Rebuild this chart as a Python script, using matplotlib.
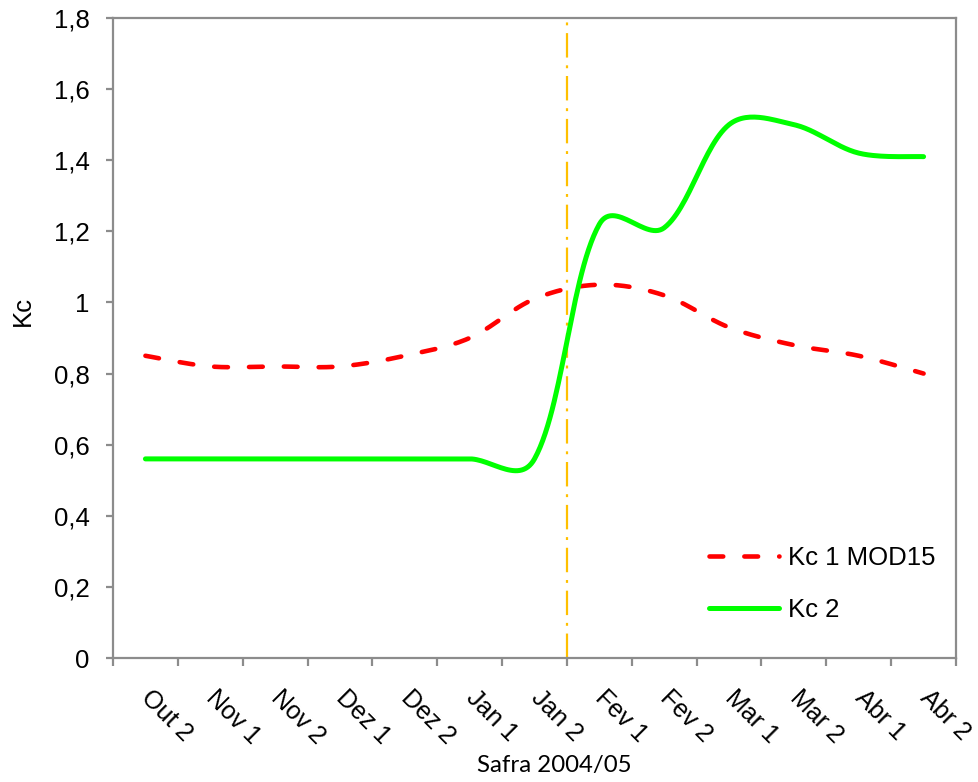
import numpy as np
import matplotlib
matplotlib.use("Agg")
import matplotlib.pyplot as plt

# Crop-coefficient series for the 2004/05 season (one value per half-month)
periods = ["Out 2", "Nov 1", "Nov 2", "Dez 1", "Dez 2", "Jan 1", "Jan 2",
           "Fev 1", "Fev 2", "Mar 1", "Mar 2", "Abr 1", "Abr 2"]
kc1_mod15 = [0.85, 0.82, 0.82, 0.82, 0.85, 0.90, 1.01, 1.05, 1.02, 0.93, 0.88, 0.85, 0.80]
kc2 = [0.56, 0.56, 0.56, 0.56, 0.56, 0.56, 0.56, 1.22, 1.21, 1.50, 1.50, 1.42, 1.41]
y_ticks = [0, 0.2, 0.4, 0.6, 0.8, 1.0, 1.2, 1.4, 1.6, 1.8]
y_tick_labels = ["0", "0,2", "0,4", "0,6", "0,8", "1", "1,2", "1,4", "1,6", "1,8"]
marker_pos = 6.5  # boundary between Jan 2 and Fev 1

SANS = "Liberation Sans"
TITLE_FONT = "Lato"
AXIS_GREY = "#8c8c8c"

fig = plt.figure(figsize=(9.79, 7.82), dpi=100)
ax = fig.add_axes([113 / 979, 124 / 782, 843 / 979, 640 / 782])
n = len(periods)
ax.set_xlim(-0.5, n - 0.5)
ax.set_ylim(0, 1.8)


def smooth_curve(ax, xs, ys, steps=30):
    """Bezier smoothing through the points (computed in display space)."""
    pts = ax.transData.transform(np.column_stack([xs, ys]))
    m = len(pts)
    seg = np.hypot(*np.diff(pts, axis=0).T)
    w = np.sqrt(seg)
    out = [pts[0]]
    t = np.linspace(0, 1, steps)[1:, None]
    for i in range(m - 1):
        p0, p3 = pts[i], pts[i + 1]
        if i == 0:
            c1 = p0 + (pts[1] - pts[0]) / 6
        else:
            c1 = p0 + (pts[i + 1] - pts[i - 1]) * w[i] / (w[i - 1] + w[i]) / 3
        if i + 1 == m - 1:
            c2 = p3 - (pts[i + 1] - pts[i]) / 6
        else:
            c2 = p3 - (pts[i + 2] - pts[i]) * w[i] / (w[i] + w[i + 1]) / 3
        b = ((1 - t) ** 3) * p0 + 3 * ((1 - t) ** 2) * t * c1 + 3 * (1 - t) * t ** 2 * c2 + t ** 3 * p3
        out.extend(b)
    out = ax.transData.inverted().transform(np.array(out))
    return out[:, 0], out[:, 1]


x = np.arange(n)
sx, sy = smooth_curve(ax, x, kc1_mod15)
ax.plot(sx, sy, color="#ff0000", lw=3.3, dashes=(3.0, 4.6),
        dash_capstyle="round", solid_capstyle="round", label="Kc 1 MOD15", zorder=3)
sx, sy = smooth_curve(ax, x, kc2)
ax.plot(sx, sy, color="#00ff00", lw=3.6, solid_capstyle="round",
        label="Kc 2", zorder=4)

ax.axvline(marker_pos, ymin=0, ymax=0.993, color="#ffc000", lw=1.6,
           dashes=(11, 3.5, 1.3, 3.5), zorder=2)

# Axes frame
for sp in ax.spines.values():
    sp.set_color(AXIS_GREY)
    sp.set_linewidth(1.6)

ax.set_yticks(y_ticks)
ax.set_yticklabels(y_tick_labels, fontfamily=SANS, fontsize=18.5)
ax.tick_params(axis="y", direction="out", length=5, width=1.6, color=AXIS_GREY, pad=12)

# Category labels sit at the centres; tick marks at the category boundaries
ax.set_xticks(x)
ax.set_xticklabels(periods, fontfamily=SANS, fontsize=18, rotation=-45,
                   rotation_mode="anchor", ha="left", va="center")
ax.tick_params(axis="x", which="major", length=0, pad=26)
ax.set_xticks(np.arange(-0.5, n, 1.0), minor=True)
ax.tick_params(axis="x", which="minor", direction="out", length=6, width=1.6, color=AXIS_GREY)

ax.set_ylabel("Kc", fontfamily=SANS, fontsize=18.5)
ax.yaxis.label.set_va("center")
ax.yaxis.set_label_coords(-0.107, 0.542)
ax.set_xlabel("Safra 2004/05", fontfamily=TITLE_FONT, fontsize=17.3)
ax.xaxis.label.set_va("center")
ax.xaxis.set_label_coords(0.524, -0.168)

leg = ax.legend(loc="center left", bbox_to_anchor=(0.695, 0.116), frameon=False,
                prop={"family": SANS, "size": 18.5}, handlelength=2.7,
                handletextpad=0.35, labelspacing=1.1, borderaxespad=0)

fig.savefig("out.png", dpi=100, facecolor="white")
